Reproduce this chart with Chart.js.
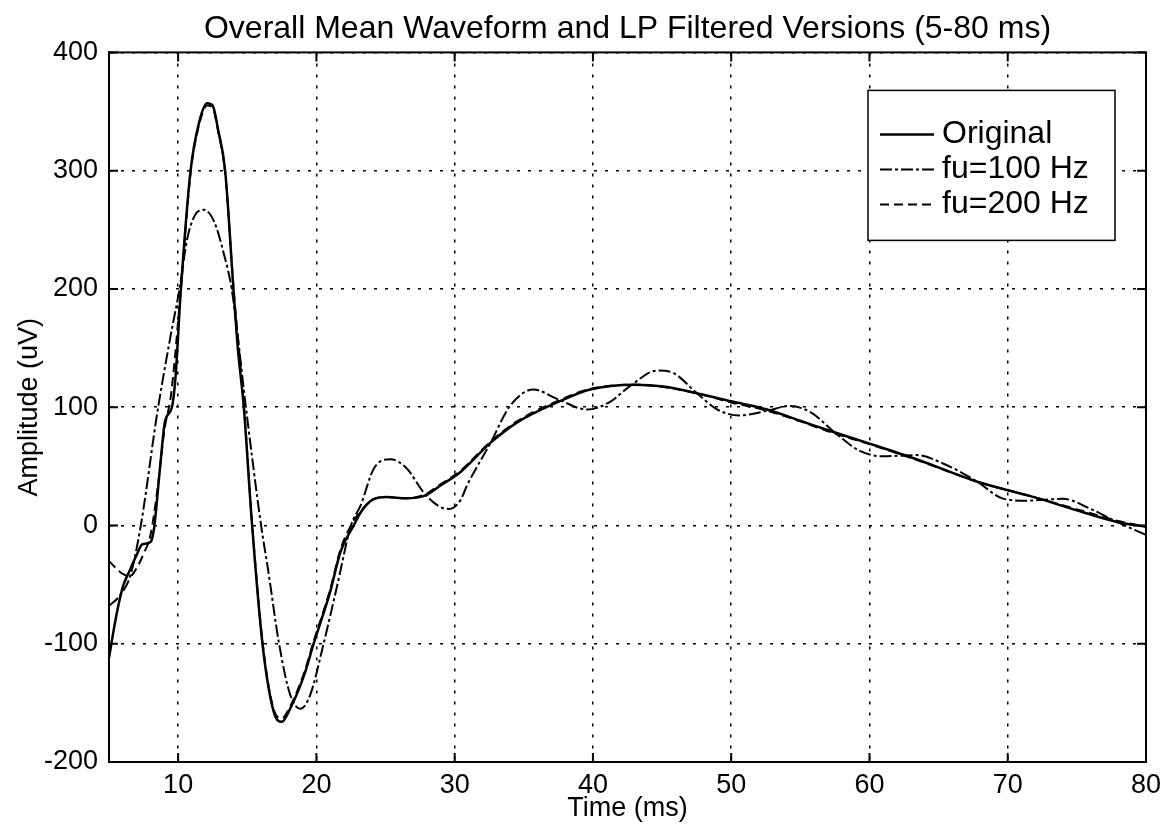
<!DOCTYPE html>
<html>
<head>
<meta charset="utf-8">
<script src="https://cdn.jsdelivr.net/npm/chart.js@4.4.0/dist/chart.umd.min.js"></script>
<style>
  html, body { margin: 0; padding: 0; background: #fff; }
</style>
</head>
<body>
<canvas id="myChart" width="1171" height="832"></canvas>
<script>
// values (time in ms, amplitude in uV)
var seriesNames = ["Original", "fu=100 Hz", "fu=200 Hz"];

var origTime = [5, 5.5, 6, 6.5, 7, 7.4, 8, 8.25, 8.7, 9.05, 9.55, 9.8, 10.2, 10.9, 11.5, 12.1, 12.5, 12.9, 13.4, 14,
  14.3, 14.75, 15.35, 16.1, 16.9, 17.5, 18.1, 19.1, 19.8, 21, 21.75, 22.7, 23.2, 24.1, 25.1, 26.5, 27.8, 29, 30.4, 32.6,
  34.5, 37.4, 39.8, 43, 45.1, 47.8, 50, 52.6, 55, 57.4, 59.8, 63.4, 67.8, 71.9, 75.5, 77.9, 80];
var origAmp = [-112, -78, -52, -38, -25, -16, -14, -3, 50, 88, 100, 124, 200, 300, 340, 357, 355, 334, 300, 200,
  152, 100, 0, -100, -157, -166, -155, -127, -100, -56, -22, 0, 11, 22, 24, 23, 25, 34, 45, 70,
  87, 104, 115, 119, 117.5, 111, 105, 98, 88.5, 79, 70, 56, 37, 24, 11, 3, -1];

var fu100Time = [5, 5.8, 6.55, 7.3, 8.5, 9.45, 10.1, 10.65, 11.2, 11.85, 12.6, 13.3, 13.9, 14.9, 16, 16.5, 17.3, 18.1, 18.85, 19.56,
  20.5, 21.5, 22.5, 23.2, 24.15, 25.35, 26.55, 27.75, 28.97, 29.6, 30.4, 30.9, 32.6, 34, 35.7, 37.4, 39.6, 41.3, 42.7, 44.65,
  45.8, 47.5, 49, 50.6, 52.6, 54.2, 55.7, 57.65, 59.3, 61, 63.4, 65.4, 67.8, 69.7, 71.4, 74, 76, 77.9, 80];
var fu100Amp = [-68, -59, -42, 0, 96, 160, 200, 242, 262, 267, 257, 230, 198, 100, 0, -37, -100, -143, -155, -143,
  -101, -51, 0, 17, 48, 56, 48, 28, 15.5, 14, 21, 34, 70, 101, 115, 107, 98, 105, 118, 131,
  129, 112, 98, 93, 97, 101, 96, 77, 63, 58.5, 59.5, 52, 37, 22.5, 21, 22.5, 14, 3, -8];

var fu200Time = [5, 5.5, 6, 6.5, 7, 7.5, 8, 8.5, 9, 9.5, 10.2, 10.9, 11.5, 12.1, 12.5, 12.9, 13.4, 14, 14.75, 15.35,
  16.1, 16.9, 17.5, 18.1, 19.1, 19.8, 21, 21.75, 22.6, 23.2, 24.1, 25.1, 26.5, 27.8, 29, 30.4, 32.6, 34.5, 37.4, 39.8,
  43, 45.1, 47.8, 50, 52.6, 55, 57.4, 59.8, 63.4, 67.8, 71.9, 75.5, 77.9, 80];
var fu200Amp = [-30, -36, -41, -43, -36, -24, -8, 30, 80, 112, 200, 298, 338, 355, 353, 333, 298, 202, 102, 2,
  -98, -155, -163, -153, -125, -98, -54, -20, 2, 12, 22, 24, 23, 26, 35, 46, 71, 88, 105, 115.5,
  119, 117, 111, 104, 97, 88, 78, 69.5, 55.5, 37, 24, 12, 4, -1];

var xTicks = [10, 20, 30, 40, 50, 60, 70, 80];
var yTicks = [-200, -100, 0, 100, 200, 300, 400];

function pairs(t, v) {
  return t.map(function (x, i) { return { x: x, y: v[i] }; });
}

Chart.defaults.font.family = '"Liberation Sans", Arial, Helvetica, sans-serif';
Chart.defaults.color = '#000';

// box around the axes, inward ticks and the boxed legend (matlab look)
var frameAndLegend = {
  id: 'frameAndLegend',
  afterDatasetsDraw: function (chart) {
    var ctx = chart.ctx, a = chart.chartArea;
    var xs = chart.scales.x, ys = chart.scales.y;
    ctx.save();
    ctx.strokeStyle = '#000';
    ctx.setLineDash([]);
    ctx.lineWidth = 2;
    ctx.strokeRect(a.left, a.top, a.right - a.left, a.bottom - a.top);
    ctx.beginPath();
    xTicks.forEach(function (v) {
      var p = xs.getPixelForValue(v);
      ctx.moveTo(p, a.bottom); ctx.lineTo(p, a.bottom - 9);
      ctx.moveTo(p, a.top); ctx.lineTo(p, a.top + 9);
    });
    yTicks.forEach(function (v) {
      var p = ys.getPixelForValue(v);
      ctx.moveTo(a.left, p); ctx.lineTo(a.left + 9, p);
      ctx.moveTo(a.right, p); ctx.lineTo(a.right - 9, p);
    });
    ctx.stroke();

    // legend
    var bx = a.right - 278, by = a.top + 38, bw = 247, bh = 150;
    ctx.fillStyle = '#fff';
    ctx.fillRect(bx, by, bw, bh);
    ctx.lineWidth = 1.5;
    ctx.strokeRect(bx, by, bw, bh);
    ctx.font = '32px "Liberation Sans", Arial, sans-serif';
    ctx.textBaseline = 'middle';
    ctx.fillStyle = '#000';
    chart.data.datasets.forEach(function (ds, i) {
      var yy = by + 44 + i * 35;
      ctx.beginPath();
      ctx.lineWidth = ds.borderWidth;
      ctx.setLineDash(ds.borderDash || []);
      ctx.moveTo(bx + 12, yy);
      ctx.lineTo(bx + 66, yy);
      ctx.stroke();
      ctx.setLineDash([]);
      ctx.fillText(ds.label, bx + 74, yy);
    });
    ctx.restore();
  }
};

var ctx = document.getElementById("myChart").getContext("2d");
var myChart = new Chart(ctx, {
  type: 'line',
  data: {
    datasets: [
      { label: seriesNames[0], data: pairs(origTime, origAmp), borderColor: '#000', borderWidth: 2.5, borderDash: [] },
      { label: seriesNames[1], data: pairs(fu100Time, fu100Amp), borderColor: '#000', borderWidth: 2, borderDash: [12, 3, 3, 3] },
      { label: seriesNames[2], data: pairs(fu200Time, fu200Amp), borderColor: '#000', borderWidth: 2, borderDash: [9, 5] }
    ]
  },
  options: {
    responsive: false,
    animation: false,
    elements: {
      point: { radius: 0, hoverRadius: 0 },
      line: { cubicInterpolationMode: 'monotone', fill: false }
    },
    layout: { padding: { left: 0, right: 25, top: 0, bottom: 0 } },
    plugins: {
      legend: { display: false },
      tooltip: { enabled: false },
      title: {
        display: true,
        fullSize: false,
        text: 'Overall Mean Waveform and LP Filtered Versions (5-80 ms)',
        color: '#000',
        font: { size: 32, weight: 'normal' },
        padding: { top: 10, bottom: 4 }
      }
    },
    scales: {
      x: {
        type: 'linear',
        min: 5,
        max: 80,
        afterBuildTicks: function (s) { s.ticks = xTicks.map(function (v) { return { value: v }; }); },
        afterFit: function (s) { s.height = 70; },
        ticks: { color: '#000', font: { size: 27 }, padding: 7, maxRotation: 0 },
        grid: { color: '#000', lineWidth: 1.5, drawTicks: false },
        border: { display: true, color: '#000', width: 2, dash: [3, 8] },
        title: { display: true, text: 'Time (ms)', color: '#000', font: { size: 27 }, padding: { top: 0, bottom: 7 } }
      },
      y: {
        type: 'linear',
        min: -200,
        max: 400,
        afterBuildTicks: function (s) { s.ticks = yTicks.map(function (v) { return { value: v }; }); },
        afterFit: function (s) { s.width = 109; },
        ticks: { color: '#000', font: { size: 27 }, padding: 11 },
        grid: { color: '#000', lineWidth: 1.5, drawTicks: false },
        border: { display: true, color: '#000', width: 2, dash: [3, 8] },
        title: { display: true, text: 'Amplitude (uV)', color: '#000', font: { size: 27 }, padding: { top: 13, bottom: 0 } }
      }
    }
  },
  plugins: [frameAndLegend]
});
</script>
</body>
</html>
